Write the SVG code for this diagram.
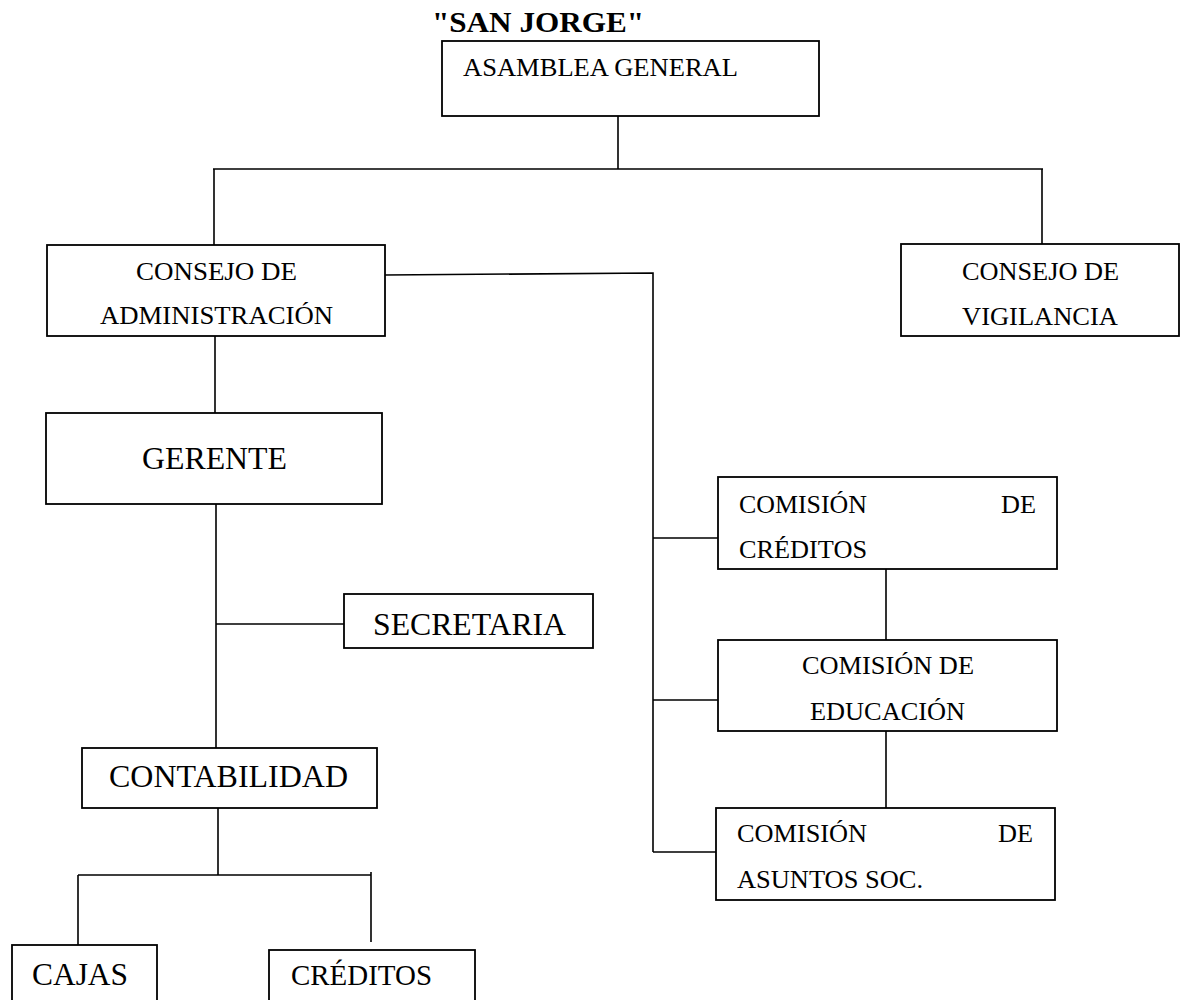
<svg xmlns="http://www.w3.org/2000/svg" width="1189" height="1000" viewBox="0 0 1189 1000">
<style>
.box{fill:#fff;stroke:#000;stroke-width:1.8}
.ln{fill:none;stroke:#000;stroke-width:1.6}
text{font-family:"Liberation Serif","Times New Roman",serif;fill:#000}
.s{font-size:25px}
.b{font-size:32px}
.t{font-size:30px;font-weight:bold}
</style>
<rect width="1189" height="1000" fill="#fff"/>
<text class="t" x="432" y="32" textLength="212" lengthAdjust="spacingAndGlyphs">"SAN JORGE"</text>
<g id="connectors">
<path class="ln" d="M618,116 V169 M213,169 H1043 M214,169 V247 M1042,169 V245"/>
<path class="ln" d="M385,275 L653,273 V852 M653,538 H718 M653,700 H718 M653,852 H716"/>
<path class="ln" d="M886,569 V640 M886,731 V808"/>
<path class="ln" d="M215,336 V413 M216,504 V748 M216,624 H344"/>
<path class="ln" d="M218,808 V875 M78,875 H371 M78,875 V945 M371,872 V942"/>
</g>
<g id="asamblea">
<rect class="box" x="442" y="41" width="377" height="75"/>
<text class="s" x="463" y="76" textLength="275" lengthAdjust="spacingAndGlyphs">ASAMBLEA GENERAL</text>
</g>
<g id="consejo-admin">
<rect class="box" x="47" y="245" width="338" height="91"/>
<text class="s" x="136" y="280" textLength="161" lengthAdjust="spacingAndGlyphs">CONSEJO DE</text>
<text class="s" x="100" y="324" textLength="233" lengthAdjust="spacingAndGlyphs">ADMINISTRACIÓN</text>
</g>
<g id="consejo-vigilancia">
<rect class="box" x="901" y="244" width="278" height="92"/>
<text class="s" x="962" y="280" textLength="157" lengthAdjust="spacingAndGlyphs">CONSEJO DE</text>
<text class="s" x="962" y="325" textLength="156" lengthAdjust="spacingAndGlyphs">VIGILANCIA</text>
</g>
<g id="gerente">
<rect class="box" x="46" y="413" width="336" height="91"/>
<text class="b" x="142" y="469" textLength="145" lengthAdjust="spacingAndGlyphs">GERENTE</text>
</g>
<g id="secretaria">
<rect class="box" x="344" y="594" width="249" height="54"/>
<text class="b" x="373" y="635" textLength="193" lengthAdjust="spacingAndGlyphs">SECRETARIA</text>
</g>
<g id="contabilidad">
<rect class="box" x="82" y="748" width="295" height="60"/>
<text class="b" x="109" y="787" textLength="239" lengthAdjust="spacingAndGlyphs">CONTABILIDAD</text>
</g>
<g id="cajas">
<rect class="box" x="12" y="945" width="145" height="70"/>
<text class="b" x="32" y="985" textLength="96" lengthAdjust="spacingAndGlyphs">CAJAS</text>
</g>
<g id="creditos">
<rect class="box" x="269" y="950" width="206" height="70"/>
<text style="font-size:29px" x="291" y="985" textLength="141" lengthAdjust="spacingAndGlyphs">CRÉDITOS</text>
</g>
<g id="comision-creditos">
<rect class="box" x="718" y="477" width="339" height="92"/>
<text class="s" x="739" y="513" textLength="128" lengthAdjust="spacingAndGlyphs">COMISIÓN</text>
<text class="s" x="1001" y="513" textLength="35" lengthAdjust="spacingAndGlyphs">DE</text>
<text class="s" x="739" y="558" textLength="128" lengthAdjust="spacingAndGlyphs">CRÉDITOS</text>
</g>
<g id="comision-educacion">
<rect class="box" x="718" y="640" width="339" height="91"/>
<text class="s" x="802" y="674" textLength="172" lengthAdjust="spacingAndGlyphs">COMISIÓN DE</text>
<text class="s" x="810" y="720" textLength="155" lengthAdjust="spacingAndGlyphs">EDUCACIÓN</text>
</g>
<g id="comision-asuntos">
<rect class="box" x="716" y="808" width="339" height="92"/>
<text class="s" x="737" y="842" textLength="130" lengthAdjust="spacingAndGlyphs">COMISIÓN</text>
<text class="s" x="998" y="842" textLength="35" lengthAdjust="spacingAndGlyphs">DE</text>
<text class="s" x="737" y="888" textLength="186" lengthAdjust="spacingAndGlyphs">ASUNTOS SOC.</text>
</g>
</svg>
